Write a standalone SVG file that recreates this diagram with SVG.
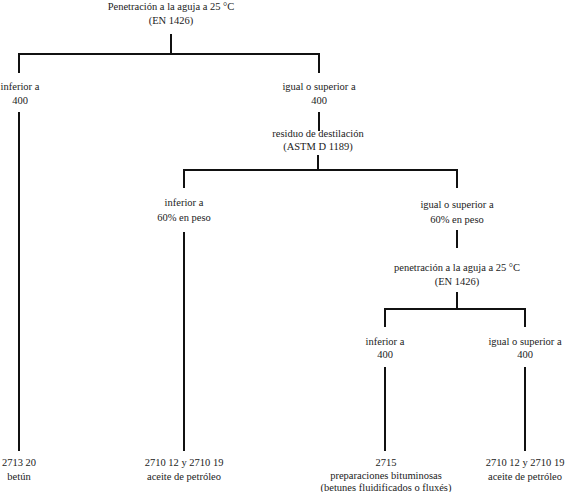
<svg xmlns="http://www.w3.org/2000/svg" width="567" height="492" viewBox="0 0 567 492">
<style>
text{font-family:'Liberation Serif','DejaVu Serif',serif;font-size:10.5px;fill:#222;text-anchor:middle}
.c line{stroke:#111;stroke-width:2}
</style>
<rect width="567" height="492" fill="#fff"/>
<g class="c" id="connectors">
<line x1="171" y1="34" x2="171" y2="54"/>
<line x1="18" y1="54" x2="320" y2="54"/>
<line x1="19" y1="53" x2="19" y2="73"/>
<line x1="319" y1="53" x2="319" y2="73"/>
<line x1="19" y1="112" x2="19" y2="451"/>
<line x1="319" y1="112" x2="319" y2="131"/>
<line x1="318" y1="155" x2="318" y2="170"/>
<line x1="183" y1="170" x2="458" y2="170"/>
<line x1="184" y1="169" x2="184" y2="188"/>
<line x1="457" y1="169" x2="457" y2="188"/>
<line x1="184" y1="232" x2="184" y2="451"/>
<line x1="457" y1="230" x2="457" y2="248"/>
<line x1="457" y1="292" x2="457" y2="309"/>
<line x1="384" y1="309" x2="526" y2="309"/>
<line x1="385" y1="308" x2="385" y2="327"/>
<line x1="525" y1="308" x2="525" y2="327"/>
<line x1="385" y1="367" x2="385" y2="451"/>
<line x1="525" y1="367" x2="525" y2="451"/>
</g>
<g id="n0"><text x="171" y="10">Penetración a la aguja a 25 °C</text><text x="171" y="24">(EN 1426)</text></g>
<g id="n1"><text x="20" y="90">inferior a</text><text x="20" y="104">400</text></g>
<g id="n2"><text x="319" y="90">igual o superior a</text><text x="319" y="104">400</text></g>
<g id="n3"><text x="318" y="137">residuo de destilación</text><text x="318" y="150">(ASTM D 1189)</text></g>
<g id="n4"><text x="184" y="206">inferior a</text><text x="184" y="221">60% en peso</text></g>
<g id="n5"><text x="457" y="208">igual o superior a</text><text x="457" y="223">60% en peso</text></g>
<g id="n6"><text x="457" y="271">penetración a la aguja a 25 °C</text><text x="457" y="285">(EN 1426)</text></g>
<g id="n7"><text x="385" y="345">inferior a</text><text x="385" y="358">400</text></g>
<g id="n8"><text x="525" y="345">igual o superior a</text><text x="525" y="358">400</text></g>
<g id="n9"><text x="19" y="466">2713 20</text><text x="19" y="480">betún</text></g>
<g id="n10"><text x="184" y="466">2710 12 y 2710 19</text><text x="184" y="480">aceite de petróleo</text></g>
<g id="n11"><text x="386" y="466">2715</text><text x="386" y="479">preparaciones bituminosas</text><text x="386" y="491">(betunes fluidificados o fluxés)</text></g>
<g id="n12"><text x="525" y="466">2710 12 y 2710 19</text><text x="525" y="480">aceite de petróleo</text></g>
</svg>
